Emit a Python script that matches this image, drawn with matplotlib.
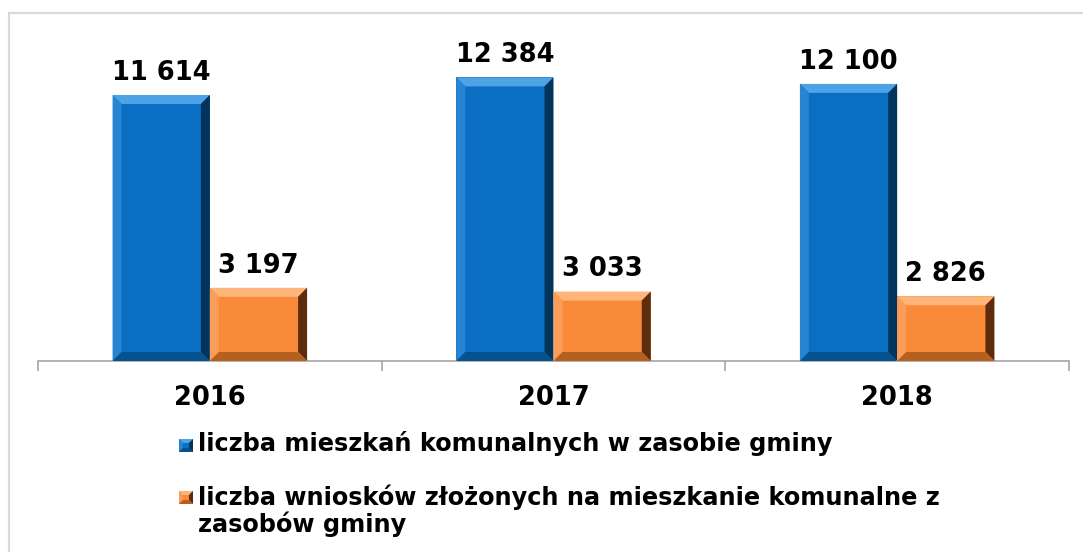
import numpy as np
import matplotlib.pyplot as plt
from matplotlib.patches import Polygon, Rectangle
from matplotlib.transforms import IdentityTransform

plt.rcParams["font.family"] = ["DejaVu Sans"]

years = ["2016", "2017", "2018"]
mieszkania = [11614, 12384, 12100]
wnioski = [3197, 3033, 2826]
labels = [
    ["liczba mieszkań komunalnych w zasobie gminy"],
    ["liczba wniosków złożonych na mieszkanie komunalne z", "zasobów gminy"],
]

W, H, DPI = 1083, 552, 100
fig = plt.figure(figsize=(W / DPI, H / DPI), dpi=DPI)
ax = fig.add_axes([38 / W, 1 - 361 / H, (1069 - 38) / W, 349 / H])

x = np.arange(len(years))
width = 0.283
ax.set_xlim(-0.5, 2.5)
ax.set_ylim(0, 15240)

# (face, top, left, right, bottom) shades for the bevelled boxes
blue = ("#0a6fc2", "#4da3e6", "#2784d2", "#02345c", "#05528f")
orange = ("#f98a3a", "#fdb57a", "#fb9d58", "#5e2c0c", "#b5601f")


def bevel_px(fig, px0, py0, px1, py1, shades, bw, z=3):
    # four trapezoids around the box edge, in display pixels
    b = min(bw, (py1 - py0) / 2, (px1 - px0) / 2)
    ipx0, ipx1, ipy0, ipy1 = px0 + b, px1 - b, py0 + b, py1 - b
    quads = [
        (1, [(px0, py1), (px1, py1), (ipx1, ipy1), (ipx0, ipy1)]),
        (2, [(px0, py0), (px0, py1), (ipx0, ipy1), (ipx0, ipy0)]),
        (3, [(px1, py0), (px1, py1), (ipx1, ipy1), (ipx1, ipy0)]),
        (4, [(px0, py0), (px1, py0), (ipx1, ipy0), (ipx0, ipy0)]),
    ]
    for k, pts in quads:
        fig.add_artist(Polygon(pts, closed=True, facecolor=shades[k],
                               edgecolor="none", transform=IdentityTransform(),
                               zorder=z))


b1 = ax.bar(x - width / 2, mieszkania, width, color=blue[0], zorder=2)
b2 = ax.bar(x + width / 2, wnioski, width, color=orange[0], zorder=2)

for bars, shades in ((b1, blue), (b2, orange)):
    for rect in bars:
        x0, y0 = rect.get_x(), rect.get_y()
        x1, y1 = x0 + rect.get_width(), y0 + rect.get_height()
        (px0, py0), (px1, py1) = ax.transData.transform([(x0, y0), (x1, y1)])
        bevel_px(fig, px0, py0, px1, py1, shades, 9)
        ax.annotate(f"{int(y1):,}".replace(",", " "),
                    ((x0 + x1) / 2, y1),
                    xytext=(0, 11), textcoords="offset points",
                    ha="center", va="baseline", fontsize=18.5,
                    fontweight="bold", color="black")

for s in ("top", "left", "right"):
    ax.spines[s].set_visible(False)
ax.spines["bottom"].set_color("#a6a6a6")
ax.spines["bottom"].set_linewidth(1.2)
ax.set_yticks([])
ax.set_xticks(x)
ax.set_xticklabels(years, fontsize=18.5, fontweight="bold")
ax.tick_params(axis="x", which="major", length=0, pad=17)
ax.set_xticks([-0.5, 0.5, 1.5, 2.5], minor=True)
ax.tick_params(axis="x", which="minor", length=7, width=1.2, color="#a6a6a6")

# legend: bevelled squares with bold labels
leg_rows = [(439, 451), (491, 505)]  # square top, first baseline (pixels from top)
line_step = 27
sq0, sq1, sq_h = 179, 193, 13
for (top, base), shades, lines in zip(leg_rows, (blue, orange), labels):
    fig.add_artist(Rectangle((sq0, H - top - sq_h), sq1 - sq0, sq_h,
                             facecolor=shades[0], edgecolor="none",
                             transform=IdentityTransform(), zorder=2))
    bevel_px(fig, sq0, H - top - sq_h, sq1, H - top, shades, 4)
    for i, line in enumerate(lines):
        fig.text(198 / W, 1 - (base + i * line_step) / H, line, ha="left",
                 va="baseline", fontsize=17.3, fontweight="bold")

# outer chart frame
fig.patches.append(Rectangle((9 / W, -0.1), 1.2, 1 - 12.5 / H + 0.1,
                             transform=fig.transFigure, fill=False,
                             edgecolor="#d9d9d9", linewidth=1.6))

fig.savefig("out.png", dpi=DPI)
